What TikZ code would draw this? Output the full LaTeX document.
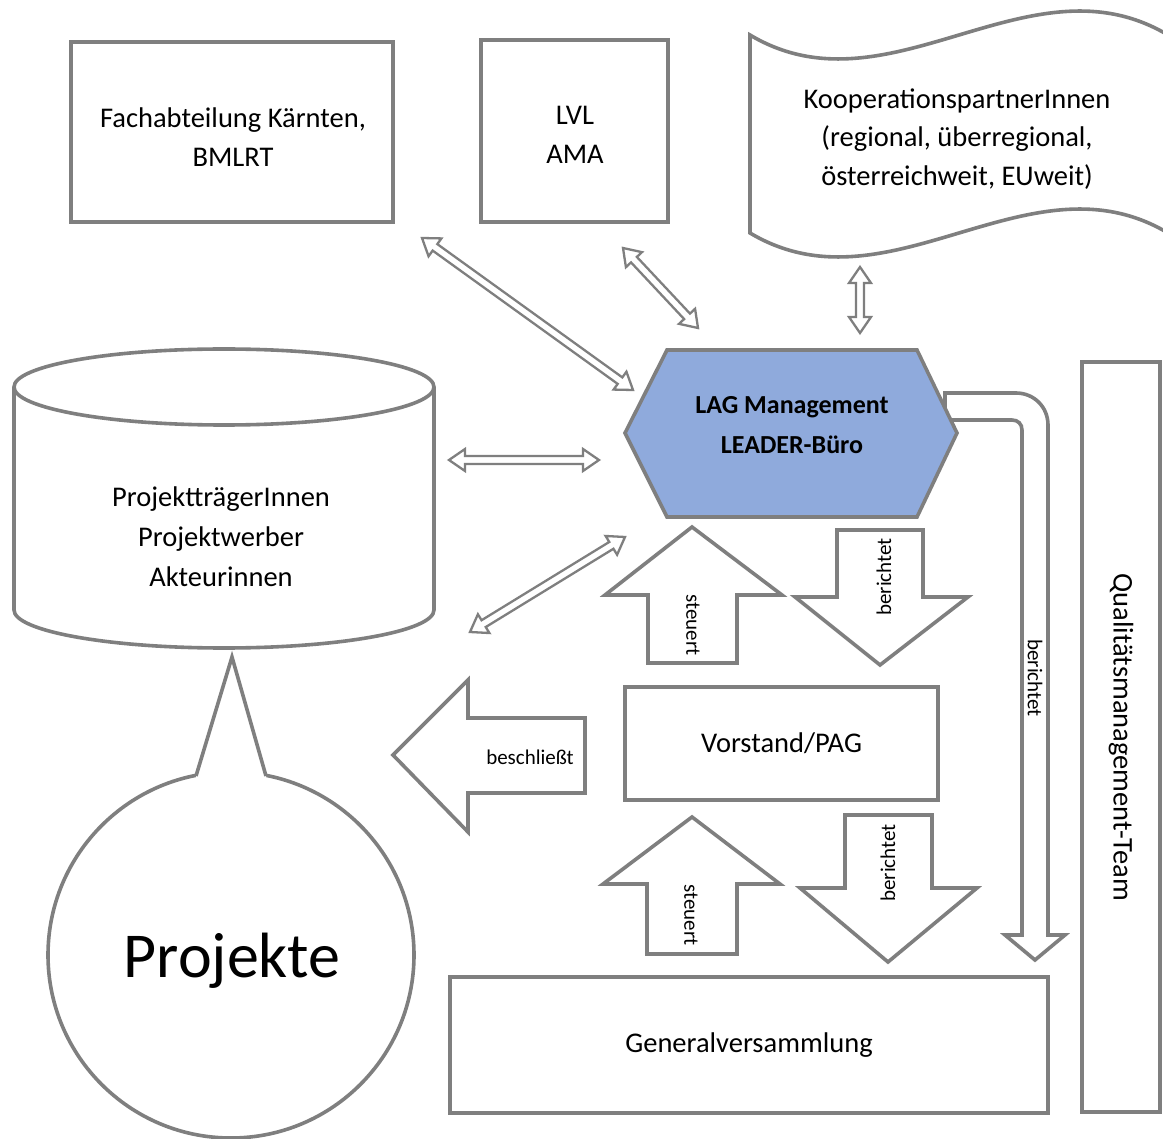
\documentclass[tikz,border=0pt]{standalone}
\usepackage{fontspec}
\setmainfont{Carlito}
\usetikzlibrary{calc}
\definecolor{lg}{RGB}{127,127,127}
\definecolor{hexfill}{RGB}{143,170,220}
\newcommand{\dblarr}[2]{%
  \draw[dblp]
    (#1)
    -- ($($(#1)!16pt!(#2)$)!11pt!90:(#2)$)
    -- ($($(#1)!16pt!(#2)$)!4pt!90:(#2)$)
    -- ($($(#2)!16pt!(#1)$)!4pt!-90:(#1)$)
    -- ($($(#2)!16pt!(#1)$)!11pt!-90:(#1)$)
    -- (#2)
    -- ($($(#2)!16pt!(#1)$)!11pt!90:(#1)$)
    -- ($($(#2)!16pt!(#1)$)!4pt!90:(#1)$)
    -- ($($(#1)!16pt!(#2)$)!4pt!-90:(#2)$)
    -- ($($(#1)!16pt!(#2)$)!11pt!-90:(#2)$)
    -- cycle;}
\begin{document}
\begin{tikzpicture}[x=1pt,y=-1pt,
  box/.style={draw=lg, line width=3.6pt, fill=white},
  blk/.style={draw=lg, line width=3.6pt, fill=white, line join=miter},
  dblp/.style={draw=lg, line width=2.3pt, fill=white, line join=miter},
  txt/.style={font=\fontsize{28.5}{38.5}\selectfont, align=center, inner sep=0pt},
  small/.style={font=\fontsize{21}{24}\selectfont, inner sep=0pt},
]
\useasboundingbox (0,0) rectangle (1163,1139);
\clip (0,0) rectangle (1163,1139);

% top boxes
\node[box, minimum width=322pt, minimum height=180pt] (fach) at (232,132) {};
\node[txt] (facht) at (233,137) {Fachabteilung Kärnten,\\BMLRT};
\node[box, minimum width=187pt, minimum height=182pt] (lvl) at (574.5,131) {};
\node[txt] (lvlt) at (575,135) {LVL\\AMA};

% flag
\draw[box] (750,35) .. controls (889,118) and (1029,-48) .. (1168,35) -- (1168,233) .. controls (1029,150) and (889,316) .. (750,233) -- cycle;
\node[txt] (kop) at (957,139) {KooperationspartnerInnen\\(regional, überregional,\\österreichweit, EUweit)};

% cylinder
\draw[box] (14,387) -- (14,610) .. controls (14,631) and (108,648) .. (224,648) .. controls (340,648) and (434,631) .. (434,610) -- (434,387);
\draw[box] (224,387) ellipse [x radius=210, y radius=38];
\node[txt, font=\fontsize{28.5}{40}\selectfont] (proj) at (221,537) {ProjektträgerInnen\\Projektwerber\\Akteurinnen};

% speech bubble
\draw[box] (231,955) circle [radius=183];
\fill[white] (196,775) -- (232,657) -- (266,775) -- (266,793) -- (196,793) -- cycle;
\draw[lg, line width=3.6pt, line join=miter] (196,776) -- (232,657) -- (266,776);
\node[inner sep=0pt, font=\fontsize{64}{70}\selectfont] (pk) at (232,961) {Projekte};

% bent arrow (berichtet to Generalversammlung)
\draw[blk] (945,393) -- (1016,393) .. controls (1034,393) and (1048,407) .. (1048,425) -- (1048,935) -- (1065,935) -- (1035,960) -- (1005,935) -- (1022,935) -- (1022,430) .. controls (1022,424) and (1018,420) .. (1012,420) -- (945,420) -- cycle;
\node[small, rotate=-90] (ber3) at (1035,678) {berichtet};

% hexagon
\draw[draw=lg, line width=3.6pt, fill=hexfill, line join=miter] (667,350) -- (917,350) -- (957,433) -- (917,517) -- (667,517) -- (625,433) -- cycle;
\node[txt, font=\fontsize{26}{40}\selectfont\bfseries] (lag) at (792,425) {LAG Management\\LEADER-Büro};

% double arrows
\coordinate (d1a) at (422,238); \coordinate (d1b) at (633,390);
\coordinate (d2a) at (623,248); \coordinate (d2b) at (698,328);
\coordinate (d3a) at (860,267); \coordinate (d3b) at (860,333);
\coordinate (d4a) at (449,460); \coordinate (d4b) at (599,460);
\coordinate (d5a) at (470,632); \coordinate (d5b) at (625,537);
\dblarr{d1a}{d1b}
\dblarr{d2a}{d2b}
\dblarr{d3a}{d3b}
\dblarr{d4a}{d4b}
\dblarr{d5a}{d5b}

% block arrows between LAG and Vorstand
\draw[blk] (648,663) -- (648,595) -- (605,595) -- (692,527) -- (782,595) -- (737,595) -- (737,663) -- cycle;
\node[small, rotate=-90] (st1) at (693,625) {steuert};
\draw[blk] (837,530) -- (923,530) -- (923,597) -- (968,597) -- (880,665) -- (795,597) -- (837,597) -- cycle;
\node[small, rotate=90] (ber1) at (884,577) {berichtet};

% Vorstand
\node[box, txt, minimum width=313pt, minimum height=113pt] (vor) at (781.5,743.5) {Vorstand/PAG};

% beschliesst
\draw[blk] (585,718) -- (468,718) -- (468,680) -- (393,755) -- (468,832) -- (468,793) -- (585,793) -- cycle;
\node[small] (bes) at (530,757) {beschließt};

% block arrows between Vorstand and Generalversammlung
\draw[blk] (647,954) -- (647,884) -- (603,884) -- (692,817) -- (780,884) -- (737,884) -- (737,954) -- cycle;
\node[small, rotate=-90] (st2) at (691,915) {steuert};
\draw[blk] (845,815) -- (932,815) -- (932,888) -- (977,888) -- (888,962) -- (800,888) -- (845,888) -- cycle;
\node[small, rotate=90] (ber2) at (888,863) {berichtet};

% Generalversammlung
\node[box, txt, minimum width=598pt, minimum height=136pt] (gen) at (749,1045) {Generalversammlung};

% Qualitaetsmanagement
\node[box, txt, minimum width=750pt, minimum height=78pt, rotate=-90] (qm) at (1121,737) {Qualitätsmanagement-Team};
\end{tikzpicture}
\end{document}
